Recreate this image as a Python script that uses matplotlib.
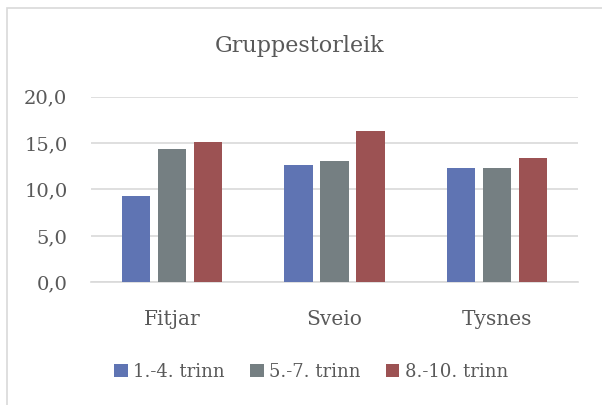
import matplotlib
matplotlib.use('Agg')
import matplotlib.pyplot as plt
from matplotlib.patches import Rectangle, Patch
import numpy as np

# ------------------------------------------------------------
#  DATA
# ------------------------------------------------------------
kommunar = ['Fitjar', 'Sveio', 'Tysnes']
serie_namn = ['1.-4. trinn', '5.-7. trinn', '8.-10. trinn']
trinn_1_4 = [9.3, 12.6, 12.3]
trinn_5_7 = [14.4, 13.1, 12.3]
trinn_8_10 = [15.1, 16.3, 13.4]
y_ticks = [0, 5, 10, 15, 20]
y_labels = ['0,0', '5,0', '10,0', '15,0', '20,0']

# ------------------------------------------------------------
#  STIL
# ------------------------------------------------------------
FARGAR = ['#5F74B3', '#757F82', '#9C5253']
TEKST = '#595959'
GRID = '#D9D9D9'
plt.rcParams['font.family'] = ['DejaVu Serif']

W, H = 602, 405
fig = plt.figure(figsize=(W / 100, H / 100), dpi=100)

# ramme rundt diagrammet (berre venstre og topp synleg)
fig.patches.append(Rectangle((6.5 / W, -0.5), 2.0, 1.5 - 7.5 / H,
                             transform=fig.transFigure, fill=False,
                             edgecolor=GRID, linewidth=1.2))

ax = fig.add_axes([91 / W, 1 - 282.3 / H, (578 - 91) / W, (282.3 - 96.7) / H])

x = np.arange(len(kommunar))
step = 0.222
bw = 0.174
for i, (vals, farge, namn) in enumerate(zip([trinn_1_4, trinn_5_7, trinn_8_10], FARGAR, serie_namn)):
    ax.bar(x + (i - 1) * step, vals, width=bw, color=farge, label=namn, zorder=3)

ax.set_xlim(-0.5, 2.5)
ax.set_ylim(0, 20)
ax.set_yticks(y_ticks)
ax.set_yticklabels(y_labels)
ax.set_xticks(x)
ax.set_xticklabels(kommunar)
ax.yaxis.grid(True, color=GRID, linewidth=1.2, zorder=0)
for s in ['top', 'right', 'left']:
    ax.spines[s].set_visible(False)
ax.spines['bottom'].set_color(GRID)
ax.spines['bottom'].set_linewidth(1.2)
ax.tick_params(axis='both', length=0, colors=TEKST)
ax.tick_params(axis='y', labelsize=14, pad=17)
ax.tick_params(axis='x', labelsize=14.5, pad=20)

fig.text(300 / W, 1 - 46 / H, 'Gruppestorleik', ha='center', va='center',
         fontsize=16, color=TEKST)

handles = [Patch(facecolor=f, edgecolor='none') for f in FARGAR]
fig.legend(handles, serie_namn, loc='center', bbox_to_anchor=(311 / W, 1 - 372 / H),
           ncol=3, frameon=False, fontsize=13, labelcolor=TEKST,
           handlelength=0.75, handleheight=0.75, handletextpad=0.3,
           columnspacing=1.4)

fig.savefig('out.png', dpi=100)
